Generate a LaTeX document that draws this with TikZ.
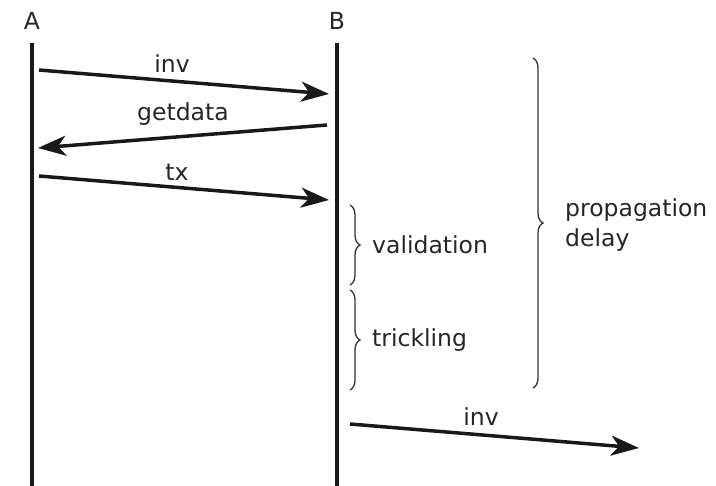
\documentclass[tikz,border=0pt]{standalone}
\usepackage{fontspec}
\setmainfont{DejaVu Sans}
\usetikzlibrary{arrows.meta,decorations.pathreplacing}
\begin{document}
\begin{tikzpicture}[x=1pt,y=-1pt,
  lifeline/.style={line width=4.5pt,black!90},
  msg/.style={line width=3.5pt,black!90,-{Stealth[length=28pt,width=20pt,inset=8pt]}},
  lbl/.style={font=\fontsize{23.5}{30}\selectfont,text=black!85,inner sep=0pt},
  brc/.style={decorate,decoration={brace,amplitude=10pt},line width=1.3pt,black!80}]
\useasboundingbox (0,0) rectangle (716,486);
% lifeline heads
\node[lbl] (A) at (32,21) {A};
\node[lbl] (B) at (337,21) {B};
\coordinate (Atop) at (32,43);
\coordinate (Abot) at (32,486);
\coordinate (Btop) at (337,43);
\coordinate (Bbot) at (337,486);
\draw[lifeline] (Atop) -- (Abot);
\draw[lifeline] (Btop) -- (Bbot);
% messages
\coordinate (m1s) at (39,70);  \coordinate (m1e) at (329,94);
\coordinate (m2s) at (327,125); \coordinate (m2e) at (38,148);
\coordinate (m3s) at (39,176); \coordinate (m3e) at (329,200);
\coordinate (m4s) at (350,424); \coordinate (m4e) at (639,448);
\draw[msg] (m1s) -- (m1e);
\draw[msg] (m2s) -- (m2e);
\draw[msg] (m3s) -- (m3e);
\draw[msg] (m4s) -- (m4e);
\node[lbl] (l1) at (172,64) {inv};
\node[lbl] (l2) at (183,114) {getdata};
\node[lbl] (l3) at (177,172) {tx};
\node[lbl] (l4) at (481,417) {inv};
% braces
\coordinate (v1) at (350,205); \coordinate (v2) at (350,285);
\coordinate (t1) at (350,290); \coordinate (t2) at (350,390);
\coordinate (p1) at (533,58);  \coordinate (p2) at (533,388);
\draw[brc] (v1) -- (v2);
\draw[brc] (t1) -- (t2);
\draw[brc] (p1) -- (p2);
\node[lbl,anchor=west] (lv) at (372,245) {validation};
\node[lbl,anchor=west] (lt) at (372,340) {trickling};
\node[lbl,anchor=west,align=left] (lp) at (565,225) {propagation\\delay};
\end{tikzpicture}
\end{document}
